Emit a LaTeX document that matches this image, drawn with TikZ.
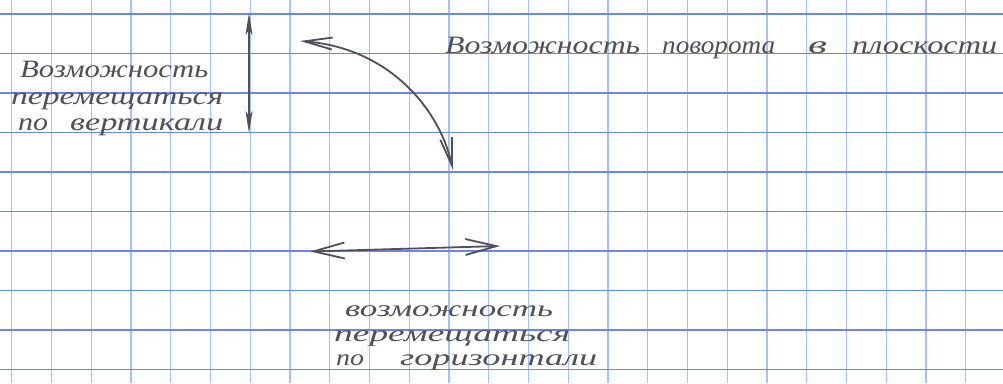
\documentclass[tikz,border=0pt]{standalone}
\usepackage{fontspec}
\setmainfont{Liberation Serif}
\newfontfamily\handfont{Liberation Serif}
\usepackage{graphicx}
\usetikzlibrary{arrows.meta}
\definecolor{gridh}{RGB}{112,132,238}
\definecolor{gridv}{RGB}{165,192,250}
\definecolor{pencil}{RGB}{80,80,90}
\tikzset{
  hline/.style={gridh, line width=1.6pt},
  vline/.style={gridv, line width=1.4pt},
  stroke/.style={pencil, line width=1.8pt, line cap=round},
  hand/.style={inner sep=0pt, anchor=base west, text=pencil,
    font=\handfont\itshape\fontsize{25}{25}\selectfont},
  handsmall/.style={hand, font=\handfont\itshape\fontsize{23}{23}\selectfont},
}
\newcommand\hw[2]{\resizebox{#1pt}{\height}{#2}}
\begin{document}
\begin{tikzpicture}[x=1pt,y=-1pt]
\useasboundingbox (0,0) rectangle (1003,383);
\fill[white] (0,0) rectangle (1003,383);
% grid paper
\foreach \k in {0,...,24} \draw[vline] ({11.7+39.75*\k},0) -- ({11.7+39.75*\k},383);
\foreach \k in {0,...,9} \draw[hline] (0,{14+39.5*\k}) -- (1003,{14+39.5*\k});

% arrows
\coordinate (vtop) at (249,13);
\coordinate (vbot) at (249,133);
\draw[stroke, {Stealth[length=22pt,width=7pt,inset=5pt]}-{Stealth[length=22pt,width=7pt,inset=5pt]}] (vtop) -- (vbot);

\coordinate (cstart) at (300,41);
\coordinate (cend) at (453,170);
\draw[stroke, {Straight Barb[length=28pt,width=12pt]}-{Straight Barb[length=28pt,width=12pt]}]
  (cstart) .. controls (390,48) and (440,110) .. (cend);

\coordinate (hleft) at (310,251.5);
\coordinate (hright) at (500,246);
\draw[stroke, {Straight Barb[length=31pt,width=16pt]}-{Straight Barb[length=31pt,width=16pt]}] (hleft) -- (hright);

% top label
\node[hand] (t1) at (445,53) {\hw{195}{Возможность}};
\node[hand] (t2) at (662,53) {\hw{113}{поворота}};
\node[hand] (t3) at (808,53) {\hw{19}{в}};
\node[hand] (t4) at (852,53) {\hw{145}{плоскости}};

% left label
\node[hand] (l1) at (20,77) {\hw{188}{Возможность}};
\node[hand] (l2) at (11,104) {\hw{212}{перемещаться}};
\node[hand] (l3a) at (18,130) {\hw{30}{по}};
\node[hand] (l3b) at (70,130) {\hw{153}{вертикали}};

% bottom label
\node[handsmall] (b1) at (345,316) {\hw{208}{возможность}};
\node[handsmall] (b2) at (334,341) {\hw{236}{перемещаться}};
\node[handsmall] (b3a) at (336,365) {\hw{28}{по}};
\node[handsmall] (b3b) at (400,365) {\hw{197}{горизонтали}};
\end{tikzpicture}
\end{document}
